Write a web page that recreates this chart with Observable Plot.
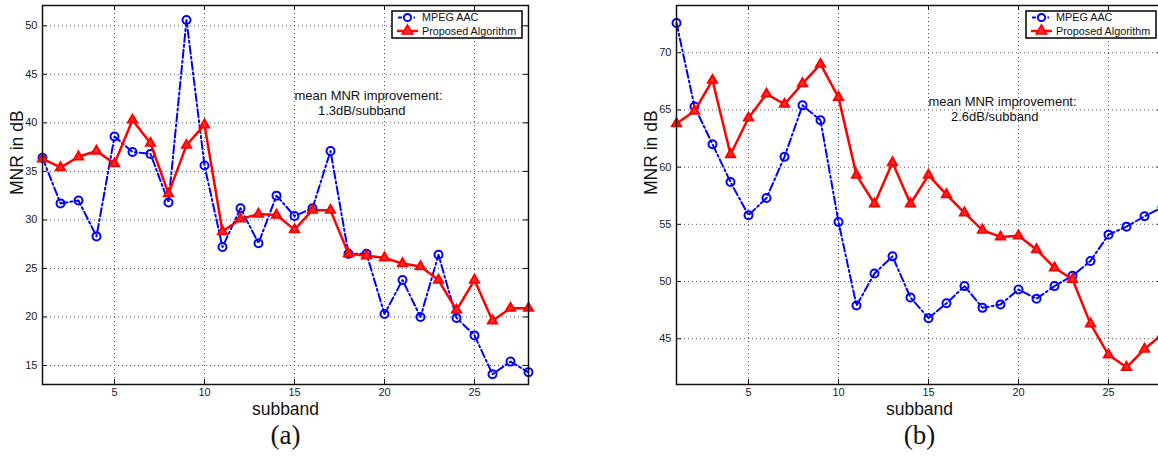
<!DOCTYPE html>
<html><head><meta charset="utf-8">
<script src="https://cdn.jsdelivr.net/npm/d3@7"></script>
<script src="https://cdn.jsdelivr.net/npm/@observablehq/plot@0.6"></script>
<style>
body{margin:0;background:#fff;}
#wrap{position:relative;width:1158px;height:462px;overflow:hidden;background:#fff;font-family:"Liberation Sans",Arial,sans-serif;}
.panel{position:absolute;top:0;}
.legend{position:absolute;top:9px;}
</style></head><body><div id="wrap"></div>
<script>
// ---- data ----
const subbands = [1,2,3,4,5,6,7,8,9,10,11,12,13,14,15,16,17,18,19,20,21,22,23,24,25,26,27,28];
const seriesNames = ["MPEG AAC", "Proposed Algorithm"];
const aacA  = [36.4,31.7,32.0,28.3,38.6,37.0,36.8,31.8,50.6,35.6,27.2,31.2,27.6,32.5,30.4,31.2,37.1,26.5,26.5,20.3,23.8,20.0,26.4,19.9,18.1,14.1,15.4,14.3];
const propA = [36.3,35.4,36.5,37.1,35.8,40.3,37.9,32.7,37.7,39.8,28.8,30.1,30.6,30.5,29.0,31.0,31.0,26.5,26.3,26.1,25.5,25.2,23.8,20.7,23.8,19.6,20.9,20.9];
const aacB  = [72.6,65.3,62.0,58.7,55.8,57.3,60.9,65.4,64.1,55.2,47.9,50.7,52.2,48.6,46.8,48.1,49.6,47.7,48.0,49.3,48.5,49.6,50.5,51.8,54.1,54.8,55.7,56.5];
const propB = [63.8,64.9,67.6,61.1,64.3,66.4,65.5,67.3,69.0,66.1,59.3,56.8,60.4,56.8,59.3,57.6,56.0,54.5,53.9,54.0,52.8,51.2,50.2,46.3,43.6,42.5,44.1,45.4];
const xTicks  = [5,10,15,20,25];
const yTicksA = [15,20,25,30,35,40,45,50];
const yTicksB = [45,50,55,60,65,70];
const noteLine1 = "mean MNR improvement:";
const noteA = "1.3dB/subband";
const noteB = "2.6dB/subband";
const notePosA = [[15, 42.75], [16.3, 41.2]];
const notePosB = [[15, 65.75], [16.25, 64.4]];
const yLabel = "MNR in dB";
const xLabel = "subband";

const FONT = '"Liberation Sans", Arial, sans-serif';
const W = 560, H = 462, ML = 42, MR = 32, MT = 5, MB = 78;
const FW = W - ML - MR, FH = H - MT - MB;

function chart({aac, prop, yDomain, yTicks, note, notePos, tag}) {
  const rows = subbands.map((b, i) => ({band: b, aac: aac[i], prop: prop[i]}));
  const grid = {stroke: "#555", strokeOpacity: 1, strokeWidth: 1, strokeDasharray: "1,3"};
  return Plot.plot({
    width: W, height: H, marginLeft: ML, marginRight: MR, marginTop: MT, marginBottom: MB,
    x: {domain: [1, 28]},
    y: {domain: yDomain},
    style: {fontFamily: FONT, background: "white", overflow: "visible"},
    marks: [
      Plot.gridX(xTicks, grid),
      Plot.gridY(yTicks, grid),
      Plot.line(rows, {x: "band", y: "aac", stroke: "#0000ff", strokeWidth: 2, strokeDasharray: "8,3,2,3"}),
      Plot.dot(rows, {x: "band", y: "aac", r: 4, stroke: "#0000ff", strokeWidth: 2, fill: "none"}),
      Plot.line(rows, {x: "band", y: "prop", stroke: "#ff0000", strokeWidth: 2.5}),
      Plot.dot(rows, {x: "band", y: "prop", symbol: "triangle", r: 3.4, stroke: "#ff0000", strokeWidth: 2, fill: "#ff2a2a"}),
      Plot.frame({stroke: "#111", strokeWidth: 1.5}),
      // inward ticks on all sides
      Plot.ruleX(xTicks, {x: d => d, insetTop: FH - 5, stroke: "#111"}),
      Plot.ruleX(xTicks, {x: d => d, insetBottom: FH - 5, stroke: "#111"}),
      Plot.ruleY(yTicks, {y: d => d, insetRight: FW - 5, stroke: "#111"}),
      Plot.ruleY(yTicks, {y: d => d, insetLeft: FW - 5, stroke: "#111"}),
      Plot.axisX(xTicks, {tickSize: 0, tickPadding: 4, fontSize: 11, fill: "#222", label: null}),
      Plot.axisY(yTicks, {tickSize: 0, tickPadding: 5, fontSize: 11, fill: "#222", label: null}),
      Plot.text([noteLine1], {x: notePos[0][0], y: notePos[0][1], textAnchor: "start", fontSize: 13, fill: "#111"}),
      Plot.text([note], {x: notePos[1][0], y: notePos[1][1], textAnchor: "start", fontSize: 13, fill: "#111"}),
      Plot.text([yLabel], {frameAnchor: "left", dx: -25, rotate: -90, fontSize: 17.5, fill: "#111"}),
      Plot.text([xLabel], {frameAnchor: "bottom", dy: 30, fontSize: 17.5, fill: "#111"}),
      Plot.text([tag], {frameAnchor: "bottom", dy: 59, fontSize: 27, fill: "#111", fontFamily: '"Liberation Serif", "DejaVu Serif", serif'})
    ]
  });
}

function legend() {
  const svg = d3.create("svg").attr("class", "legend").attr("width", 136).attr("height", 32)
    .style("font-family", FONT);
  svg.append("rect").attr("x", 2).attr("y", 2).attr("width", 130).attr("height", 27)
    .attr("fill", "#fff").attr("stroke", "#000").attr("stroke-width", 1.5);
  const ys = [8.5, 22];
  // MPEG AAC sample
  svg.append("line").attr("x1", 8).attr("x2", 27).attr("y1", ys[0]).attr("y2", ys[0])
    .attr("stroke", "#0000ff").attr("stroke-width", 2).attr("stroke-dasharray", "4,2,1.5,2");
  svg.append("circle").attr("cx", 17.5).attr("cy", ys[0]).attr("r", 3.6)
    .attr("fill", "#fff").attr("stroke", "#0000ff").attr("stroke-width", 2);
  // Proposed sample
  svg.append("line").attr("x1", 7).attr("x2", 28).attr("y1", ys[1]).attr("y2", ys[1])
    .attr("stroke", "#ff0000").attr("stroke-width", 2.5);
  svg.append("path").attr("d", d3.symbol(d3.symbolTriangle, 50)())
    .attr("transform", `translate(17.5,${ys[1]})`)
    .attr("fill", "#ff2a2a").attr("stroke", "#ff0000").attr("stroke-width", 1.5);
  seriesNames.forEach((n, i) => {
    svg.append("text").attr("x", 32).attr("y", ys[i]).attr("dy", "0.35em")
      .attr("font-size", 10.8).attr("fill", "#111").text(n);
  });
  return svg.node();
}

const wrap = document.getElementById("wrap");
const a = chart({aac: aacA, prop: propA, yDomain: [13.04, 52.09], yTicks: yTicksA, note: noteA, notePos: notePosA, tag: "(a)"});
a.classList.add("panel"); a.style.left = "0px";
wrap.appendChild(a);
const b = chart({aac: aacB, prop: propB, yDomain: [41.0, 74.13], yTicks: yTicksB, note: noteB, notePos: notePosB, tag: "(b)"});
b.classList.add("panel"); b.style.left = "634px";
wrap.appendChild(b);
const la = legend(); la.style.left = "390px"; wrap.appendChild(la);
const lb = legend(); lb.style.left = "1024px"; wrap.appendChild(lb);
</script>
</body></html>
